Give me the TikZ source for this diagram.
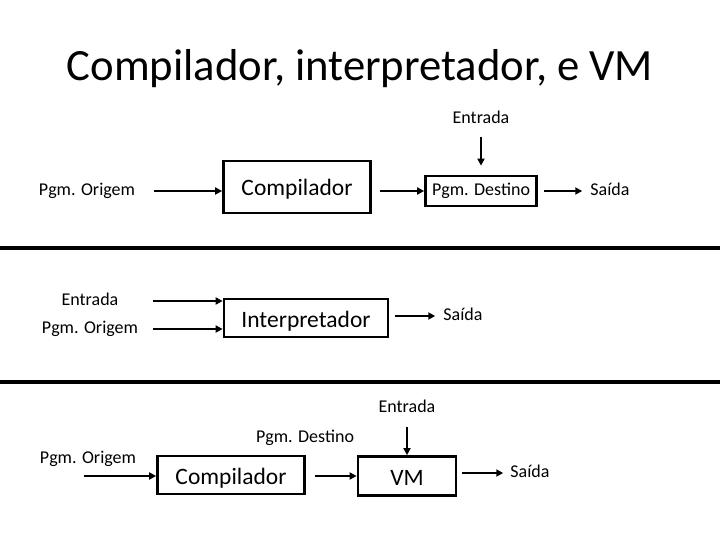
\documentclass[tikz,border=0pt]{standalone}
\usepackage{fontspec}
\setmainfont{Carlito}
\usetikzlibrary{arrows.meta,positioning}

\begin{document}
\begin{tikzpicture}[x=1pt,y=-1pt,
  font=\fontsize{18}{20}\selectfont,
  lbl/.style={inner sep=0pt,text height=13pt,text depth=4pt},
  blk/.style={draw,line width=2.7pt,inner sep=0pt,text height=20pt,text depth=2pt,font=\fontsize{23.5}{28}\selectfont},
  arr/.style={-{Triangle[length=7pt,width=7pt]},line width=2pt},
  sep/.style={line width=3.5pt}]
\useasboundingbox (0,0) rectangle (720,540);
\node[font=\fontsize{44.7}{50}\selectfont] (title) at (360,69) {Compilador, interpretador, e VM};

\node[lbl] (orig1) at (87,191) {Pgm. Origem};
\node[blk,minimum width=147pt,minimum height=52pt] (comp1) at (297,187) {Compilador};
\node[blk,font=\fontsize{18}{20}\selectfont,text height=13pt,text depth=4pt,minimum width=111pt,minimum height=30pt] (dest1) at (481,191) {Pgm. Destino};
\node[lbl,above=47pt of dest1] (ent1) {Entrada};
\node[lbl] (sai1) at (610,191) {Saída};
\draw[arr,shorten <=19pt] (orig1) -- (comp1.west |- orig1);
\draw[arr,shorten <=8pt] (comp1.east |- dest1) -- (dest1);
\draw[arr,shorten <=6pt,shorten >=8pt] (dest1) -- (sai1);
\draw[arr,shorten <=9pt,shorten >=9pt] (ent1) -- (dest1);
\draw[sep] (0,248) -- (720,248);

\node[blk,minimum width=164pt,minimum height=38pt] (interp) at (306,318) {Interpretador};
\node[lbl] (ent2) at (90,301) {Entrada};
\node[lbl] (orig2) at (90,329) {Pgm. Origem};
\node[lbl] (sai2) at (463,316) {Saída};
\draw[arr,shorten <=34pt] (ent2.east) -- (ent2.east -| interp.west);
\draw[arr,shorten <=15pt] (orig2.east) -- (orig2.east -| interp.west);
\draw[arr,shorten <=6pt,shorten >=8pt] (interp.east |- sai2) -- (sai2);
\draw[sep] (0,382) -- (720,382);

\node[blk,minimum width=147pt,minimum height=38pt] (comp3) at (231,475) {Compilador};
\node[blk,minimum width=98pt,minimum height=39pt] (vm) at (407,476) {VM};
\node[lbl,above=38pt of vm] (ent3) {Entrada};
\node[lbl] (dest3) at (305,438) {Pgm. Destino};
\node[lbl] (orig3) at (88,459) {Pgm. Origem};
\coordinate (in3) at (84,476);
\node[lbl] (sai3) at (530,473) {Saída};
\draw[arr] (in3) -- (in3 -| comp3.west);
\draw[arr,shorten <=9pt] (comp3.east |- vm) -- (vm);
\draw[arr,shorten <=5pt,shorten >=7pt] (vm.east |- sai3) -- (sai3);
\draw[arr,shorten <=10pt] (ent3) -- (vm);
\end{tikzpicture}
\end{document}
